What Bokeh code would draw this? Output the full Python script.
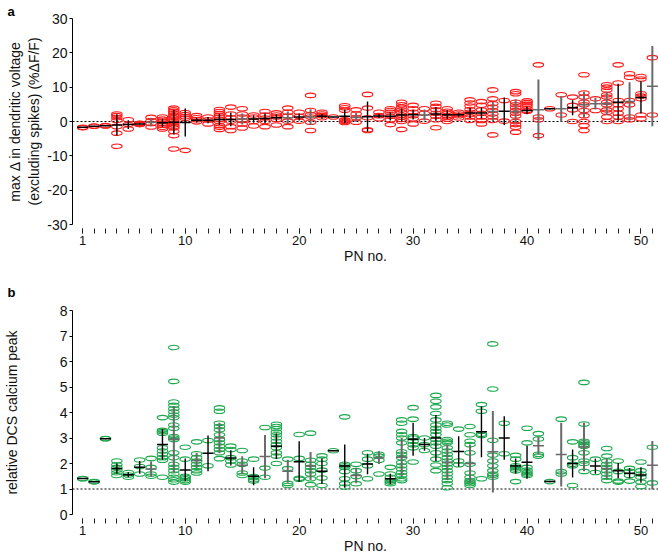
from bokeh.plotting import figure
from bokeh.models import Range1d, FixedTicker, Span
from bokeh.layouts import column
from bokeh.embed import file_html
from bokeh.resources import INLINE

# ---------------- data ----------------
pn = list(range(1, 52))
pn_labels = [1, 10, 20, 30, 40, 50]

# panel a: max change in dendritic voltage (%dF/F), one list of trials per PN
volt_points = [
    [-1.8, -1.7], [-1.4, -1.3], [-1.3, -1.2],
    [2.2, 1.7, 1.1, 0.3, -1.5, -3.4, -7.2],
    [0.5, -0.9, -2.2],
    [-0.5, -0.6, -0.7, -0.8, -0.9],
    [1.2, 0.3, -0.6, -1.6],
    [1.3, 0.7, 0.1, -0.5, -1.1, -1.7, -2.2],
    [3.9, 3.4, 2.9, 2.4, 1.9, 1.5, 1.0, 0.5, 0.0, -0.5, -1.0, -1.5, -1.9, -2.9, -4.1, -8.0],
    [2.6, 2.0, 1.4, 0.9, -8.4],
    [1.7, 1.1, 0.5, -0.1],
    [1.3, 0.5, -0.7],
    [3.5, 2.9, 2.3, 1.7, 1.2, 0.6, 0.0, -1.2, -1.7, -2.3],
    [4.2, 2.2, 1.1, 0.1, -1.5, -2.6],
    [3.7, 2.2, 1.3, 0.3, -0.7, -1.9],
    [1.9, 1.3, 0.0, -1.3],
    [2.9, 1.9, 1.0, 0.0, -1.5],
    [2.5, 1.9, 1.3, 0.6, -1.0],
    [3.9, 2.7, 1.6, 0.1, -1.5],
    [2.7, 1.5, 0.1],
    [7.6, 3.2, 2.0, 1.3, -0.2, -2.6],
    [2.7, 2.2, 1.7, 1.1],
    [1.3],
    [4.6, 4.0, 3.3, 0.5, 0.3, 0.0, -0.3],
    [3.4, 2.2, 1.1, -0.2],
    [7.9, 3.9, 1.1, -2.4, -2.6],
    [2.7, 1.7, 0.8],
    [3.7, 3.2, 2.7, 1.5, 0.5, -0.9],
    [5.6, 4.9, 4.2, 3.4, 2.7, 1.9, 1.3, 0.6, 0.0, -2.3],
    [4.7, 3.7, 2.7, 1.7, 0.8, -0.7],
    [3.7, 2.4, 0.1],
    [5.3, 4.4, 3.4, 2.4, 1.5, 0.5, -1.8],
    [3.7, 3.0, 2.4, 1.7, 1.3, 0.7, 0.0],
    [2.7, 2.2, 1.7, 1.0],
    [6.3, 5.4, 4.5, 3.5, 2.7, 2.0, 1.3, 0.3],
    [5.8, 4.7, 3.4, 2.4, 1.3, 0.3, -0.7],
    [9.2, 6.6, 5.2, 4.2, 3.2, 2.2, 1.3, 0.3, -3.9],
    [6.1, 0.1],
    [8.7, 8.1, 5.6, 4.9, 4.0, 3.2, 2.4, 1.6, 0.0, -0.9, -1.7, -3.1],
    [6.0, 5.5, 5.0, 4.5, 3.8, 3.2, 3.0],
    [16.5, 1.3, 0.5, -4.1],
    [3.7],
    [7.8, 1.9],
    [7.1, 4.7, 3.4, 0.0],
    [13.6, 8.3, 7.1, 5.6, 4.9, 3.2, 1.7, 0.0, -1.2, -2.6],
    [6.6, 3.2],
    [10.7, 10.0, 9.2, 7.8, 7.1, 5.6, 4.9, 3.4, 2.7, 1.3, 0.0],
    [16.5, 11.2, 6.1, 4.9, 3.7, 2.4, 1.3, 0.0],
    [13.9, 12.9, 6.1, 4.9, 1.3, 0.5],
    [13.1, 12.4, 8.1, 7.4, 6.6, 1.9, 0.8],
    [18.6, 1.9],
]
volt_mean = [-1.7, -1.35, -1.25, -1.0, -0.9, -0.7, -0.2, -0.4, -0.2, -0.3,
             0.4, 0.4, 0.6, 0.6, 0.7, 0.7, 0.9, 1.1, 1.1, 1.3,
             1.3, 1.5, 1.3, 1.5, 1.2, 1.4, 1.6, 1.5, 1.9, 2.0,
             1.9, 2.2, 2.0, 2.0, 2.5, 2.5, 2.9, 3.0, 2.9, 3.2,
             3.4, 3.7, 3.7, 4.0, 4.9, 5.2, 5.2, 5.6, 5.8, 7.0,
             10.3]
volt_err = [0.1, 0.1, 0.1, 3.1, 1.3, 0.2, 1.2, 1.2, 3.6, 4.1,
            0.7, 0.9, 1.6, 2.0, 1.6, 1.1, 1.4, 1.0, 1.8, 1.0,
            2.3, 0.7, 0.1, 2.0, 1.3, 4.4, 0.6, 1.2, 1.9, 1.4,
            1.6, 2.0, 1.3, 0.6, 1.5, 1.6, 2.8, 4.0, 3.5, 1.1,
            8.8, 0.2, 3.7, 2.2, 3.8, 1.7, 3.3, 5.4, 5.6, 4.7,
            11.7]
volt_sig = [1, 1, 1, 1, 1, 1, 0, 1, 1, 1,
            1, 1, 1, 1, 0, 1, 1, 1, 0, 1,
            0, 1, 1, 1, 0, 1, 1, 1, 1, 1,
            0, 1, 1, 1, 1, 1, 0, 1, 0, 1,
            0, 1, 0, 1, 0, 0, 0, 1, 0, 1,
            0]
volt_ticks = [-30, -20, -10, 0, 10, 20, 30]
volt_tick_text = ["-30", "-20", "-10", "0", "10", "20", "30"]

# panel b: relative DCS calcium peak
ca_points = [
    [1.41, 1.40], [1.29, 1.28], [2.98, 2.97],
    [2.1, 1.95, 1.85, 1.74, 1.64, 1.53],
    [1.65, 1.55, 1.46],
    [2.14, 1.88, 1.59],
    [2.2, 1.85, 1.59, 1.5],
    [3.8, 3.3, 3.25, 3.19, 2.62, 2.49, 2.36, 2.23, 2.13, 1.46],
    [6.55, 5.22, 4.41, 4.28, 4.15, 4.03, 3.9, 3.8, 3.51, 3.38, 3.06, 3.0, 2.94,
     2.42, 2.23, 1.97, 1.85, 1.72, 1.59, 1.46, 1.36, 1.27],
    [2.64, 2.17, 1.5, 1.46, 1.4, 1.33, 1.27],
    [2.85, 2.38, 2.23, 2.1, 1.97, 1.85, 1.72, 1.63],
    [2.9, 1.91],
    [4.18, 4.05, 3.58, 3.45, 3.32, 3.13, 2.94, 2.81, 2.68, 2.55, 2.42, 2.19],
    [2.68, 2.55, 2.23, 2.1, 1.94],
    [2.51, 2.1, 1.97, 1.63, 1.53],
    [2.17, 1.49, 1.44, 1.36, 1.31],
    [3.41, 1.82, 1.46],
    [3.54, 3.45, 3.36, 3.23, 3.13, 3.0, 2.87, 2.74, 2.62, 2.42, 2.29, 2.0],
    [2.17, 1.8, 1.22, 1.14],
    [3.14, 2.2, 1.42, 1.38],
    [3.19, 2.13, 1.97, 1.85, 1.72, 1.59, 1.4, 1.17],
    [2.3, 2.17, 2.0, 1.74, 1.43, 1.14],
    [2.5],
    [3.83, 1.97, 1.91, 1.85, 1.69, 1.4, 1.21, 1.08],
    [1.97, 1.72, 1.49, 1.21],
    [2.42, 2.17, 1.91, 1.4],
    [2.36, 2.29, 2.13, 1.59],
    [1.85, 1.59, 1.46, 1.33, 1.27, 1.21],
    [3.71, 3.58, 3.26, 3.13, 3.0, 2.81, 2.46, 2.36, 2.23, 2.04, 1.91, 1.78,
     1.65, 1.53, 1.4, 1.33],
    [4.19, 3.74, 3.06, 3.0, 2.87, 2.74, 2.62, 2.06],
    [3.0, 2.74, 2.51],
    [4.67, 4.44, 4.22, 3.96, 3.71, 3.51, 3.38, 3.26, 3.13, 2.94, 2.81, 2.68,
     2.42, 2.17, 1.94, 1.72],
    [3.58, 3.51, 2.94, 2.87, 2.81, 2.62, 2.49, 2.36, 2.23, 2.1, 1.97, 1.85,
     1.72, 1.59, 1.46, 1.33, 1.21, 1.05],
    [3.35, 2.1, 1.95],
    [3.45, 3.13, 2.87, 2.74, 2.42, 1.97, 1.63, 1.46, 1.33, 1.27, 1.21, 1.14],
    [4.31, 4.05, 3.15, 3.1, 1.4],
    [6.69, 4.92, 2.91, 2.33, 2.1, 1.91, 1.72, 1.59, 1.53, 1.46],
    [3.58, 2.38],
    [2.32, 2.17, 1.91, 1.85, 1.78, 1.72, 1.29],
    [3.38, 2.81, 1.85, 1.74, 1.65, 1.59, 1.53],
    [3.17, 2.96, 2.36, 2.29],
    [1.29],
    [3.74, 1.68, 1.59],
    [2.85, 2.23, 1.97, 1.91, 1.14],
    [5.18, 3.55, 2.87, 2.81, 2.74, 2.68, 2.42, 2.1, 2.0, 1.69],
    [2.17, 1.65],
    [2.59, 2.29, 2.1, 1.97, 1.85, 1.72, 1.59, 1.46, 1.33],
    [2.1, 1.69, 1.31, 1.27],
    [1.81, 1.69, 1.53, 1.31],
    [2.06, 1.72, 1.59, 1.46, 1.27, 1.1],
    [2.64, 1.24],
]
ca_mean = [1.41, 1.28, 2.97, 1.8, 1.56, 1.85, 1.78, 2.75, 2.95, 1.75,
           2.12, 2.4, 3.0, 2.22, 1.93, 1.5, 2.27, 2.68, 1.7, 2.07,
           1.9, 1.7, 2.5, 1.9, 1.53, 1.98, 2.23, 1.4, 2.25, 2.95,
           2.75, 3.0, 2.05, 2.47, 2.0, 3.25, 2.46, 3.0, 1.9, 2.05,
           2.7, 1.29, 2.35, 2.0, 2.65, 1.9, 1.8, 1.72, 1.62, 1.55,
           1.93]
ca_err = [0.02, 0.02, 0.02, 0.2, 0.1, 0.25, 0.3, 0.6, 1.3, 0.45,
          0.3, 0.7, 0.6, 0.3, 0.35, 0.35, 0.85, 0.5, 0.45, 0.8,
          0.55, 0.5, 0.02, 0.85, 0.3, 0.4, 0.25, 0.2, 0.75, 0.65,
          0.25, 0.9, 0.7, 0.6, 0.75, 1.0, 1.6, 0.85, 0.3, 0.65,
          0.35, 0.03, 1.25, 0.55, 0.95, 0.3, 0.4, 0.3, 0.2, 0.3,
          0.95]
ca_sig = [1, 1, 1, 1, 1, 1, 0, 1, 0, 1,
          0, 1, 0, 1, 0, 1, 0, 1, 0, 1,
          0, 1, 1, 1, 0, 1, 0, 1, 0, 1,
          1, 1, 0, 1, 0, 1, 0, 1, 1, 1,
          0, 1, 0, 1, 0, 1, 0, 1, 1, 1,
          0]
ca_ticks = [0, 1, 2, 3, 4, 5, 6, 7, 8]
ca_tick_text = ["0", "1", "2", "3", "4", "5", "6", "7", "8"]

# ---------------- styling ----------------
FONT = "Liberation Sans"
X0, X1 = 0.104, 51.54
LEFT = 67
W = 658


def panel(points, means, errs, sig, color, ylo, yhi, yticks, ytext, baseline,
          height, top, bottom, letter, letter_standoff, ylabel, ylabel_standoff):
    p = figure(width=W, height=height, x_range=Range1d(X0, X1),
               y_range=Range1d(ylo, yhi), output_backend="svg",
               toolbar_location=None, min_border_left=LEFT,
               min_border_right=0, min_border_top=top,
               min_border_bottom=bottom)
    p.outline_line_color = None
    p.grid.visible = False
    p.background_fill_color = "white"
    p.border_fill_color = "white"

    p.title.text = letter
    p.title.align = "left"
    p.title.offset = -LEFT + 2
    p.title.standoff = letter_standoff
    p.title.text_font = FONT
    p.title.text_font_size = "13px"
    p.title.text_font_style = "bold"
    p.title.text_color = "black"

    p.add_layout(Span(location=baseline, dimension="width", line_color="black",
                      line_dash="2 2", line_width=1, level="underlay"))

    ex, ey = [], []
    for n, pts in zip(pn, points):
        for v in pts:
            ex.append(n)
            ey.append(v)
    p.ellipse(x=ex, y=ey, width=10.5, height=4.5, width_units="screen",
              height_units="screen", fill_color=None, line_color=color,
              line_width=1.1)

    cols = ["#000000" if s else "#6a6a6a" for s in sig]
    widths = [1.4 if s else 2.0 for s in sig]
    lo = [m - e for m, e in zip(means, errs)]
    hi = [m + e for m, e in zip(means, errs)]
    p.segment(x0=pn, y0=lo, x1=pn, y1=hi, line_color=cols, line_width=widths)
    p.scatter(x=pn, y=means, marker="dash", size=11, line_color=cols,
              line_width=1.5)

    xa = p.xaxis[0]
    xa.ticker = FixedTicker(ticks=pn_labels, minor_ticks=pn)
    xa.axis_line_color = None
    xa.major_tick_in = -4
    xa.major_tick_out = 9
    xa.minor_tick_in = -4
    xa.minor_tick_out = 9
    xa.major_tick_line_color = "#222222"
    xa.minor_tick_line_color = "#222222"
    xa.major_label_text_font = FONT
    xa.major_label_text_font_size = "13px"
    xa.major_label_text_color = "#111111"
    xa.major_label_standoff = 2
    xa.axis_label = "PN no."
    xa.axis_label_text_font = FONT
    xa.axis_label_text_font_size = "14px"
    xa.axis_label_text_font_style = "normal"
    xa.axis_label_text_color = "#111111"
    xa.axis_label_standoff = 0

    ya = p.yaxis[0]
    ya.ticker = FixedTicker(ticks=yticks, minor_ticks=[])
    ya.major_label_overrides = {t: s for t, s in zip(yticks, ytext)}
    ya.axis_line_color = "black"
    ya.major_tick_in = 0
    ya.major_tick_out = 3
    ya.minor_tick_in = 0
    ya.minor_tick_out = 0
    ya.major_tick_line_color = "black"
    ya.major_label_text_font = FONT
    ya.major_label_text_font_size = "14px"
    ya.major_label_text_color = "#111111"
    ya.major_label_standoff = 2
    ya.axis_label = ylabel
    ya.axis_label_text_font = FONT
    ya.axis_label_text_font_size = "14px"
    ya.axis_label_text_font_style = "normal"
    ya.axis_label_text_color = "#111111"
    ya.axis_label_standoff = ylabel_standoff
    return p


pa = panel(volt_points, volt_mean, volt_err, volt_sig, "#ff1a1a", -30, 30,
           volt_ticks, volt_tick_text, 0, 268, 18, 44, "a", 0,
           "max \u0394 in dendritic voltage\n(excluding spikes) (%\u0394F/F)", 2)
pb = panel(ca_points, ca_mean, ca_err, ca_sig, "#1fa94f", 0, 8, ca_ticks,
           ca_tick_text, 1, 288, 42, 40, "b", 22,
           "relative DCS calcium peak", 37)

layout = column(pa, pb, spacing=0)
open("out.html", "w").write(file_html(layout, INLINE))
